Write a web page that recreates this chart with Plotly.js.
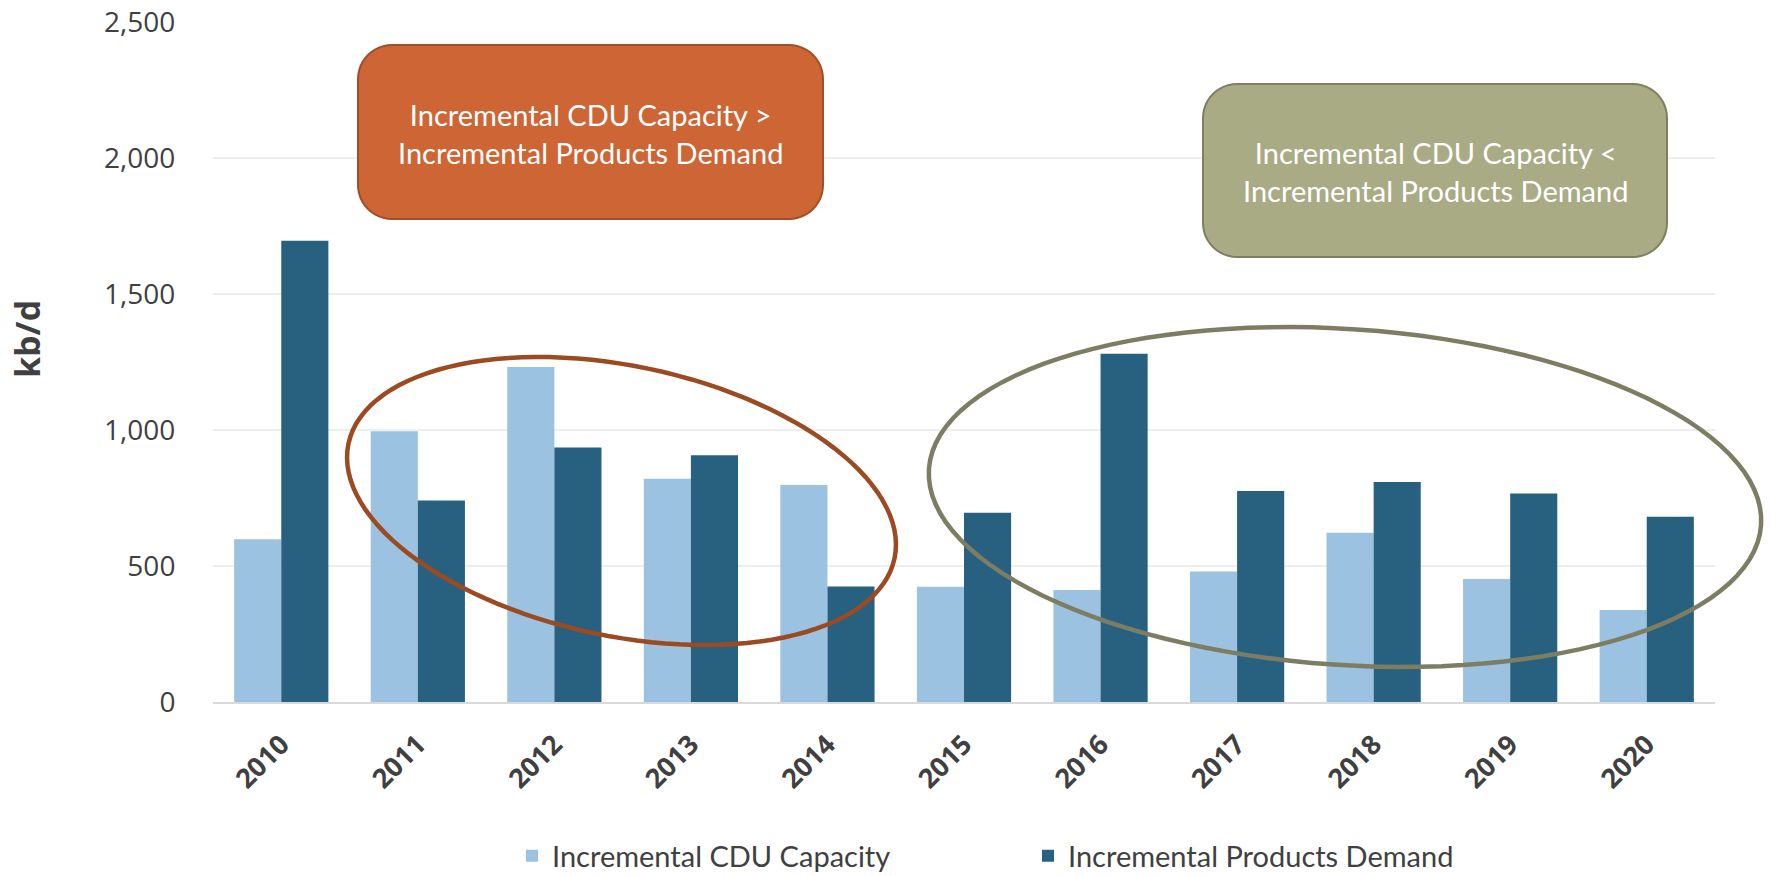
<!DOCTYPE html>
<html>
<head>
<meta charset="utf-8">
<script src="https://cdn.plot.ly/plotly-3.0.1.min.js"></script>
<style>html,body{margin:0;padding:0;background:#fff;}#chart{width:1770px;height:876px;}</style>
</head>
<body>
<div id="chart"></div>
<script>
// ---- data ----
const years = ['2010','2011','2012','2013','2014','2015','2016','2017','2018','2019','2020'];
const cduCapacity = [598, 995, 1232, 821, 798, 424, 412, 480, 622, 452, 338];
const productsDemand = [1696, 741, 936, 907, 425, 696, 1280, 776, 809, 767, 681];
const seriesNames = ['Incremental CDU Capacity', 'Incremental Products Demand'];
const yTicks = [0, 500, 1000, 1500, 2000, 2500];
const boxTexts = ['Incremental CDU Capacity &gt;<br>Incremental Products Demand',
                  'Incremental CDU Capacity &lt;<br>Incremental Products Demand'];

// ---- layout geometry (pixels) ----
const W = 1770, H = 876;
const M = {l: 213, r: 55, t: 22, b: 174};
const PW = W - M.l - M.r, PH = H - M.t - M.b;
const px2x = p => (p - M.l) / PW;
const px2y = p => (H - M.b - p) / PH;

function ellipsePath(cx, cy, a, b, deg) {
  const th = deg * Math.PI / 180, n = 120;
  let d = '';
  for (let i = 0; i <= n; i++) {
    const t = 2 * Math.PI * i / n;
    const ex = a * Math.cos(t), ey = b * Math.sin(t);
    const x = cx + ex * Math.cos(th) - ey * Math.sin(th);
    const y = cy + ex * Math.sin(th) + ey * Math.cos(th);
    d += (i === 0 ? 'M' : 'L') + px2x(x).toFixed(5) + ',' + px2y(y).toFixed(5);
  }
  return d + 'Z';
}
function roundRectPath(x0, y0, x1, y1, r) {
  const pts = [];
  const corner = (cx, cy, a0) => {
    for (let i = 0; i <= 12; i++) {
      const a = (a0 + 90 * i / 12) * Math.PI / 180;
      pts.push([cx + r * Math.cos(a), cy + r * Math.sin(a)]);
    }
  };
  corner(x1 - r, y0 + r, -90);
  corner(x1 - r, y1 - r, 0);
  corner(x0 + r, y1 - r, 90);
  corner(x0 + r, y0 + r, 180);
  return pts.map((p, i) => (i ? 'L' : 'M') + px2x(p[0]).toFixed(5) + ',' + px2y(p[1]).toFixed(5)).join('') + 'Z';
}

const traces = [
  {type: 'bar', name: seriesNames[0], x: years, y: cduCapacity, marker: {color: '#9BC2E1'}},
  {type: 'bar', name: seriesNames[1], x: years, y: productsDemand, marker: {color: '#27617F'}}
];

const shapes = [
  {type: 'path', xref: 'paper', yref: 'paper', layer: 'above', path: roundRectPath(358, 45, 823, 219, 34),
   fillcolor: '#CD6535', line: {color: '#9F4F2A', width: 2}},
  {type: 'path', xref: 'paper', yref: 'paper', layer: 'above', path: roundRectPath(1203, 84, 1667, 257, 34),
   fillcolor: '#A9AB85', line: {color: '#7F7F60', width: 2}},
  {type: 'path', xref: 'paper', yref: 'paper', layer: 'above', path: ellipsePath(621.5, 501, 279, 135, 11.85),
   line: {color: '#9C4A22', width: 4.5}},
  {type: 'path', xref: 'paper', yref: 'paper', layer: 'above', path: ellipsePath(1345, 497, 417, 168, 3.86),
   line: {color: '#7D7D63', width: 4.5}}
];

const annotations = [
  {xref: 'paper', yref: 'paper', x: px2x(590.5), y: px2y(133), text: boxTexts[0], showarrow: false,
   xanchor: 'center', yanchor: 'middle', align: 'center', font: {family: 'Lato', size: 29, color: '#FFFFFF'}},
  {xref: 'paper', yref: 'paper', x: px2x(1435), y: px2y(171), text: boxTexts[1], showarrow: false,
   xanchor: 'center', yanchor: 'middle', align: 'center', font: {family: 'Lato', size: 29, color: '#FFFFFF'}},
  {xref: 'paper', yref: 'paper', x: px2x(27), y: px2y(339), text: '<b>kb/d</b>', showarrow: false, textangle: -90,
   xanchor: 'center', yanchor: 'middle', font: {family: 'Open Sans', size: 34, color: '#404040'}}
];

const layout = {
  width: W, height: H,
  margin: M,
  paper_bgcolor: '#FFFFFF', plot_bgcolor: '#FFFFFF',
  barmode: 'group', bargap: 0.31, bargroupgap: 0,
  showlegend: true,
  legend: {orientation: 'h', xref: 'paper', x: px2x(512), xanchor: 'left',
           yref: 'container', y: (H - 856) / H, yanchor: 'middle',
           font: {family: 'Lato', size: 29, color: '#404040'}, entrywidth: 471, entrywidthmode: 'pixels',
           traceorder: 'normal'},
  xaxis: {type: 'category', tickangle: -45, tickfont: {family: 'Open Sans', size: 27, color: '#404040', weight: 'bold'},
          showline: true, linecolor: '#D9D9D9', linewidth: 2, showgrid: false, ticks: 'outside', ticklen: 14,
          tickcolor: 'rgba(0,0,0,0)', fixedrange: true, automargin: false},
  yaxis: {range: [0, 2500], tickvals: yTicks, tickformat: ',d', showgrid: true, gridcolor: '#EEEEEE', gridwidth: 1.5,
          zeroline: false, showline: false, ticks: 'outside', ticklen: 31, tickcolor: 'rgba(0,0,0,0)',
          tickfont: {family: 'Open Sans', size: 28, color: '#404040'}, fixedrange: true, automargin: false},
  shapes: shapes,
  annotations: annotations,
  font: {family: 'Open Sans', color: '#404040'}
};

Plotly.newPlot('chart', traces, layout, {displayModeBar: false, staticPlot: true});
</script>
</body>
</html>
